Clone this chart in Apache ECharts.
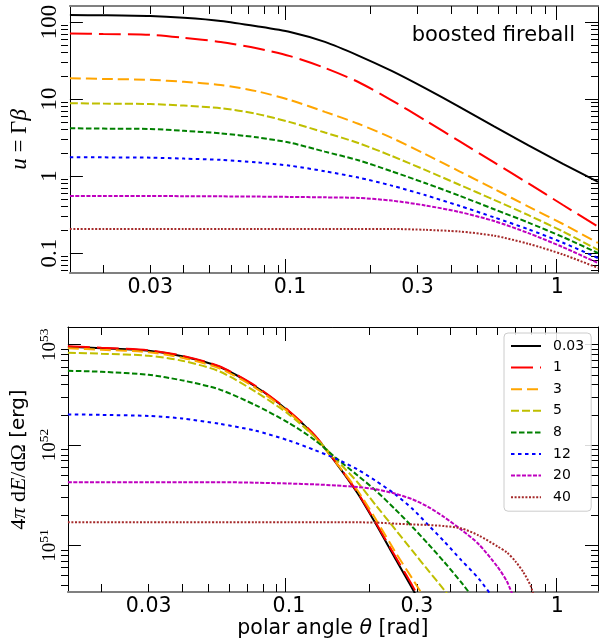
<!DOCTYPE html>
<html><head><meta charset="utf-8">
<script src="https://cdn.jsdelivr.net/npm/echarts@6/dist/echarts.min.js"></script>
<style>html,body{margin:0;padding:0;background:#fff}#c{width:602px;height:643px}</style>
</head><body><div id="c"></div>
<script>
// ---------------- data ----------------
const seriesNames  = ['0.03', '1', '3', '5', '8', '12', '20', '40'];
const seriesColors = ['#000000', '#ff0000', '#ffa500', '#bfbf00', '#008000', '#0000ff', '#bf00bf', '#a52a2a'];
const dashPatterns = ['solid', [22, 7], [11, 5], [8, 3], [5.5, 2.5], [3.5, 3.5], [4, 1.5], [2, 1.6]];

// top panel: u = Gamma*beta vs polar angle [rad]
const thetaTop = [0.015, 0.02, 0.03, 0.04, 0.055, 0.075, 0.1, 0.135, 0.18, 0.24, 0.32, 0.43, 0.58, 0.78, 1.05, 1.42];
const u_003 = [123, 122, 119, 113, 103, 88, 74, 55, 36.6, 23.1, 13.8, 7.9, 4.4, 2.5, 1.44, 0.84];
const u_1   = [71, 69.8, 68, 62.2, 55, 45.6, 36, 25.3, 16.6, 9.6, 5.3, 2.83, 1.50, 0.80, 0.42, 0.22];
const u_3   = [18.6, 18.2, 17.7, 16.7, 15.2, 12.6, 9.7, 6.8, 4.77, 3.13, 1.93, 1.15, 0.68, 0.40, 0.238, 0.135];
const u_5   = [8.8, 8.7, 8.6, 8.2, 7.6, 6.4, 5.0, 3.66, 2.68, 1.82, 1.20, 0.77, 0.49, 0.31, 0.19, 0.11];
const u_8   = [4.16, 4.12, 4.07, 3.86, 3.58, 3.18, 2.7, 2.07, 1.60, 1.15, 0.81, 0.555, 0.37, 0.248, 0.161, 0.1];
const u_12  = [1.75, 1.745, 1.73, 1.68, 1.62, 1.50, 1.36, 1.15, 0.953, 0.75, 0.565, 0.41, 0.29, 0.203, 0.136, 0.086];
const u_20  = [0.55, 0.55, 0.549, 0.547, 0.544, 0.54, 0.535, 0.528, 0.519, 0.479, 0.415, 0.341, 0.26, 0.181, 0.119, 0.074];
const u_40  = [0.205, 0.205, 0.205, 0.205, 0.205, 0.205, 0.205, 0.205, 0.205, 0.205, 0.2, 0.19, 0.168, 0.1315, 0.0957, 0.064];

// bottom panel: 4 pi dE/dOmega [erg] vs polar angle [rad]
const thetaBottom = [0.015, 0.02, 0.03, 0.04, 0.055, 0.075, 0.1, 0.125, 0.15, 0.18, 0.21, 0.25, 0.29, 0.33, 0.38, 0.44, 0.51, 0.6, 0.65, 0.7, 0.75, 0.8, 0.85];
const E_003 = [9.55e52, 9.20e52, 8.71e52, 7.67e52, 6.03e52, 3.83e52, 2.16e52, 1.23e52, 6.61e51, 3.33e51, 1.67e51, 7.28e50, 3.63e50, 1.91e50, null, null, null, null, null, null, null, null, null];
const E_1   = [9.66e52, 9.33e52, 8.81e52, 7.76e52, 6.10e52, 3.89e52, 2.19e52, 1.25e52, 6.68e51, 3.39e51, 1.72e51, 7.67e50, 3.89e50, 2.04e50, null, null, null, null, null, null, null, null, null];
const E_3   = [9.23e52, 8.91e52, 8.41e52, 7.41e52, 5.82e52, 3.72e52, 2.11e52, 1.20e52, 6.68e51, 3.55e51, 1.86e51, 8.51e50, 4.57e50, 2.63e50, 1.26e50, null, null, null, null, null, null, null, null];
const E_5   = [8.32e52, 8.13e52, 7.76e52, 6.92e52, 5.43e52, 3.41e52, 2.02e52, 1.20e52, 7.16e51, 4.28e51, 2.55e51, 1.43e51, 8.71e50, 5.69e50, 3.57e50, 2.17e50, null, null, null, null, null, null, null];
const E_8   = [5.50e52, 5.37e52, 5.01e52, 4.41e52, 3.59e52, 2.50e52, 1.66e52, 1.12e52, 7.41e51, 5.01e51, 3.55e51, 2.27e51, 1.51e51, 1.04e51, 6.81e50, 4.26e50, 2.54e50, null, null, null, null, null, null];
const E_12  = [2.02e52, 2.00e52, 1.95e52, 1.84e52, 1.63e52, 1.39e52, 1.11e52, 8.89e51, 7.30e51, 5.72e51, 4.43e51, 3.21e51, 2.29e51, 1.61e51, 1.09e51, 7.10e50, 4.68e50, 2.61e50, null, null, null, null, null];
const E_20  = [4.27e51, 4.27e51, 4.27e51, 4.27e51, 4.27e51, 4.22e51, 4.14e51, 4.06e51, 3.96e51, 3.82e51, 3.64e51, 3.27e51, 2.87e51, 2.43e51, 1.91e51, 1.43e51, 1.03e51, 6.10e50, 4.37e50, 2.69e50, null, null, null];
const E_40  = [1.70e51, 1.70e51, 1.70e51, 1.70e51, 1.70e51, 1.70e51, 1.70e51, 1.70e51, 1.70e51, 1.70e51, 1.69e51, 1.65e51, 1.62e51, 1.60e51, 1.56e51, 1.48e51, 1.26e51, 9.77e50, 8.51e50, 6.92e50, 5.36e50, 3.85e50, 2.09e50];

const topValues    = [u_003, u_1, u_3, u_5, u_8, u_12, u_20, u_40];
const bottomValues = [E_003, E_1, E_3, E_5, E_8, E_12, E_20, E_40];

// axes / ticks
const xMin = 0.015, xMax = 1.42;
const xTickLabels = [0.03, 0.1, 0.3, 1];
const xMajorTicks = [0.1, 1];
const xMinorTicks = [0.02, 0.03, 0.04, 0.05, 0.06, 0.07, 0.08, 0.09, 0.2, 0.3, 0.4, 0.5, 0.6, 0.7, 0.8, 0.9];

const yTopMin = 0.055, yTopMax = 161;
const yTopMajor = [0.1, 1, 10, 100];
const yTopMinor = [0.06, 0.07, 0.08, 0.09, 0.2, 0.3, 0.4, 0.5, 0.6, 0.7, 0.8, 0.9, 2, 3, 4, 5, 6, 7, 8, 9, 20, 30, 40, 50, 60, 70, 80, 90];

const yBotMin = 3.44e50, yBotMax = 1.5e53;
const yBotMajor = [1e51, 1e52, 1e53];
const yBotMinor = [4e50, 5e50, 6e50, 7e50, 8e50, 9e50, 2e51, 3e51, 4e51, 5e51, 6e51, 7e51, 8e51, 9e51, 2e52, 3e52, 4e52, 5e52, 6e52, 7e52, 8e52, 9e52];

// ---------------- option ----------------
const fmtNum = v => String(+(+v).toPrecision(3));
const SERIF = 'Liberation Serif';
const SANS = 'DejaVu Sans';

const panels = [
  { top: 6, bottom: 370, yMin: yTopMin, yMax: yTopMax, yMajor: yTopMajor, yMinor: yTopMinor,
    topLine: { color: '#808080', width: 2 }, bottomLine: { color: '#808080', width: 2 },
    yLabel: { rotate: 90, margin: 8, fontFamily: SERIF, fontSize: 23, color: '#000', formatter: v => fmtNum(v) },
    yName: '{i|u}{r| = Γ}{i|β}',
    yNameRich: { i: { fontFamily: SERIF, fontStyle: 'italic', fontSize: 23, color: '#000' },
                 r: { fontFamily: SERIF, fontSize: 23, color: '#000' } },
    xName: '' },
  { top: 327, bottom: 51, yMin: yBotMin, yMax: yBotMax, yMajor: yBotMajor, yMinor: yBotMinor,
    topLine: { color: '#000', width: 1 }, bottomLine: { color: '#808080', width: 2 },
    yLabel: { rotate: 90, margin: 8, color: '#000',
      formatter: v => '{b|10}{s|' + Math.round(Math.log10(v)) + '}',
      rich: { b: { fontFamily: SERIF, fontSize: 19, lineHeight: 22, verticalAlign: 'bottom', color: '#000' },
              s: { fontFamily: SERIF, fontSize: 13.5, lineHeight: 13, verticalAlign: 'top', color: '#000' } } },
    yName: '{r|4}{i|π}{r| d}{i|E}{r|/d}{r|Ω}{s| [erg]}',
    yNameRich: { i: { fontFamily: SERIF, fontStyle: 'italic', fontSize: 22, color: '#000' },
                 r: { fontFamily: SERIF, fontSize: 22, color: '#000' },
                 s: { fontFamily: SANS, fontSize: 20, color: '#000' } },
    xName: 'polar angle {i|θ} [rad]' }
];

const grids = [], xAxes = [], yAxes = [], series = [];
const tick = (vals, len) => ({ show: true, inside: true, length: len, customValues: vals, lineStyle: { color: '#000', width: 1 } });
const noLabel = { show: false };

panels.forEach((p, pi) => {
  const gMain = grids.length;
  grids.push({ left: 61, right: 4, top: p.top, bottom: p.bottom });
  grids.push({ left: 61, right: 4, top: p.top, bottom: p.bottom });
  const gAux = gMain + 1;
  const xBase = { type: 'log', logBase: 10, min: xMin, max: xMax, splitLine: { show: false } };
  xAxes.push(Object.assign({}, xBase, {
    gridIndex: gMain, position: 'bottom',
    axisLine: { show: true, lineStyle: p.bottomLine },
    axisTick: tick(xMinorTicks, 8),
    axisLabel: { show: true, customValues: xTickLabels, margin: 4, fontFamily: SANS, fontSize: 20.5, color: '#000', formatter: v => fmtNum(v) },
    name: p.xName, nameLocation: 'middle', nameGap: 22,
    nameTextStyle: { fontFamily: SANS, fontSize: 20.5, color: '#000',
      rich: { i: { fontFamily: SANS, fontStyle: 'italic', fontSize: 20.5, color: '#000' } } }
  }));
  xAxes.push(Object.assign({}, xBase, {
    gridIndex: gMain, position: 'top',
    axisLine: { show: true, lineStyle: p.topLine },
    axisTick: tick(xMinorTicks, 8), axisLabel: noLabel
  }));
  xAxes.push(Object.assign({}, xBase, { gridIndex: gAux, position: 'bottom', axisLine: { show: false }, axisTick: tick(xMajorTicks, 14), axisLabel: noLabel }));
  xAxes.push(Object.assign({}, xBase, { gridIndex: gAux, position: 'top', axisLine: { show: false }, axisTick: tick(xMajorTicks, 14), axisLabel: noLabel }));

  const yBase = { type: 'log', logBase: 10, min: p.yMin, max: p.yMax, splitLine: { show: false } };
  yAxes.push(Object.assign({}, yBase, {
    gridIndex: gMain, position: 'left',
    axisLine: { show: true, lineStyle: { color: '#000', width: 1 } },
    axisTick: tick(p.yMajor, 13),
    axisLabel: Object.assign({ show: true, customValues: p.yMajor }, p.yLabel),
    name: p.yName, nameLocation: 'middle', nameGap: 28,
    nameTextStyle: { rich: p.yNameRich }
  }));
  yAxes.push(Object.assign({}, yBase, {
    gridIndex: gMain, position: 'right',
    axisLine: { show: true, lineStyle: { color: '#000', width: 1 } },
    axisTick: tick(p.yMajor, 13), axisLabel: noLabel
  }));
  yAxes.push(Object.assign({}, yBase, { gridIndex: gAux, position: 'left', axisLine: { show: false }, axisTick: tick(p.yMinor, 7), axisLabel: noLabel }));
  yAxes.push(Object.assign({}, yBase, { gridIndex: gAux, position: 'right', axisLine: { show: false }, axisTick: tick(p.yMinor, 7), axisLabel: noLabel }));

  const thetas = pi === 0 ? thetaTop : thetaBottom;
  const vals = pi === 0 ? topValues : bottomValues;
  seriesNames.forEach((name, si) => {
    series.push({
      name: name, type: 'line', xAxisIndex: 4 * pi, yAxisIndex: 4 * pi,
      data: thetas.map((t, k) => [t, vals[si][k]]),
      symbol: 'none', smooth: 0.25, connectNulls: false, clip: true,
      lineStyle: { color: seriesColors[si], width: 2, type: dashPatterns[si] },
      itemStyle: { color: seriesColors[si] },
      z: 2 + si
    });
  });
});

const option = {
  animation: false,
  backgroundColor: '#ffffff',
  grid: grids, xAxis: xAxes, yAxis: yAxes, series: series,
  legend: {
    data: seriesNames, orient: 'vertical', left: 504, top: 333,
    itemWidth: 30, itemHeight: 14, itemGap: 7.6,
    padding: [6, 7, 7, 6],
    backgroundColor: 'rgba(255,255,255,0.85)', borderColor: '#cccccc', borderWidth: 1, borderRadius: 4,
    itemStyle: { opacity: 0, borderWidth: 0 },
    textStyle: { fontFamily: SANS, fontSize: 14, color: '#000', padding: [0, 0, 0, 7] },
    selectedMode: false, z: 20
  },
  graphic: [{
    type: 'text', z: 30,
    style: { text: 'boosted fireball', x: 575, y: 36, textAlign: 'right', textVerticalAlign: 'middle',
             font: '21px "DejaVu Sans"', fill: '#000' }
  }]
};

const chart = echarts.init(document.getElementById('c'), null, { renderer: 'canvas' });
chart.setOption(option);
</script>
</body></html>
